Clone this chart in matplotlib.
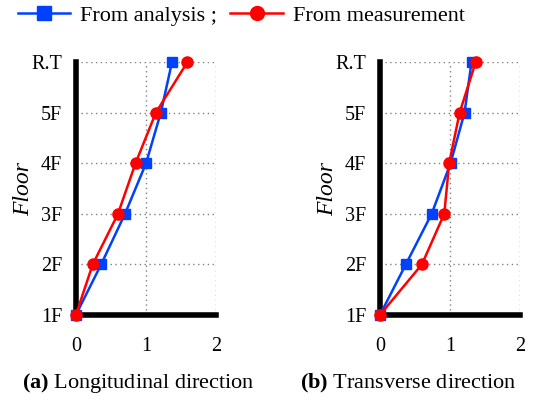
import matplotlib
matplotlib.use("Agg")
import matplotlib.pyplot as plt
from matplotlib.lines import Line2D

plt.rcParams['font.family'] = ['Liberation Serif', 'DejaVu Serif']
plt.rcParams['mathtext.fontset'] = 'custom'
plt.rcParams['mathtext.rm'] = 'Liberation Serif'
plt.rcParams['mathtext.bf'] = 'Liberation Serif:bold'

floors = ['1F', '2F', '3F', '4F', '5F', 'R.T']
levels = list(range(len(floors)))

# Longitudinal direction
long_analysis = [0.0, 0.36, 0.70, 1.00, 1.21, 1.37]
long_measure = [0.0, 0.24, 0.60, 0.85, 1.14, 1.59]
# Transverse direction
trans_analysis = [0.0, 0.37, 0.74, 1.01, 1.21, 1.31]
trans_measure = [0.0, 0.60, 0.92, 0.99, 1.14, 1.37]

xticks = [0, 1, 2]
captions = [r'$\mathbf{(a)}$ Longitudinal direction', r'$\mathbf{(b)}$ Transverse direction']

blue = '#0040ff'
red = '#ff0000'

fig = plt.figure(figsize=(5.42, 4.0), dpi=100)
ax1 = fig.add_axes([0.140, 0.2125, 0.259, 0.6325])
ax2 = fig.add_axes([0.701, 0.2125, 0.258, 0.6325])

panels = [(ax1, long_analysis, long_measure), (ax2, trans_analysis, trans_measure)]
for ax, an, me in panels:
    ax.plot(an, levels, color=blue, lw=1.8, marker='s', ms=7.5, zorder=3, clip_on=False)
    ax.plot(me, levels, color=red, lw=1.8, marker='o', ms=8, zorder=4, clip_on=False)
    ax.set_xlim(0, 2)
    ax.set_ylim(0, len(floors) - 1)
    ax.set_xticks(xticks)
    ax.set_yticks(levels)
    ax.set_yticklabels(floors)
    ax.grid(True, ls=(0, (1, 2.5)), color='#808080', lw=1.0)
    ax.set_axisbelow(True)
    for s in ['top', 'right']:
        ax.spines[s].set_visible(False)
    for s in ['left', 'bottom']:
        ax.spines[s].set_linewidth(4)
        ax.spines[s].set_color('black')
        ax.spines[s].set_zorder(2)
    ax.tick_params(axis='both', length=0, labelsize=14.5)
    ax.tick_params(axis='y', pad=10)
    ax.tick_params(axis='x', pad=16)
    ax.set_ylabel('Floor', fontstyle='italic', fontsize=17, labelpad=-2.3)

# captions below panels
fig.text(0.040, 0.03, captions[0], fontsize=16)
fig.text(0.553, 0.03, captions[1], fontsize=16)

handles = [Line2D([], [], color=blue, lw=1.8, marker='s', ms=10),
           Line2D([], [], color=red, lw=1.8, marker='o', ms=10)]
fig.legend(handles, ['From analysis ;', 'From measurement'], loc='center left',
           bbox_to_anchor=(0.033, 0.96), ncol=2, frameon=False, fontsize=16,
           borderpad=0, borderaxespad=0,
           handlelength=2.35, handletextpad=0.45, columnspacing=0.6)

fig.savefig('out.png', dpi=100)
